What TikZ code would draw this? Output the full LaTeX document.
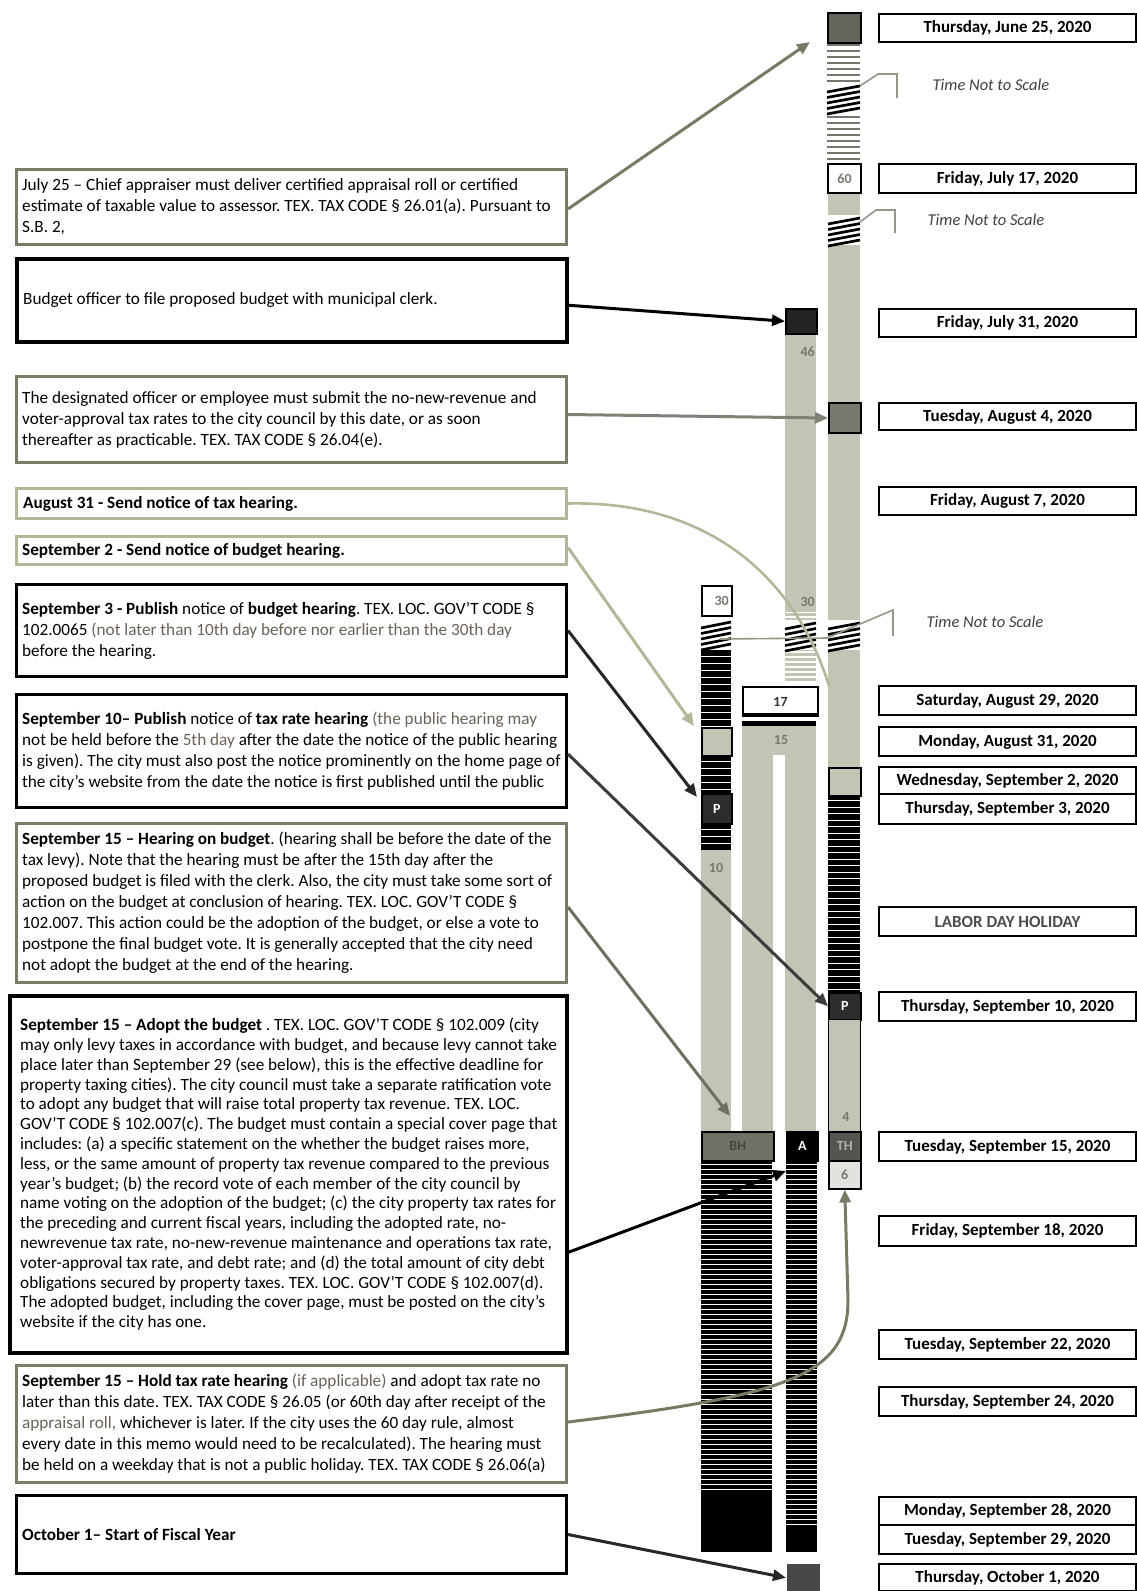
\documentclass[tikz,border=0pt]{standalone}
\usepackage{fontspec}
\setmainfont{Carlito}
\usetikzlibrary{arrows.meta,calc}
\definecolor{bargray}{RGB}{196,196,180}
\definecolor{olivec}{RGB}{122,124,104}
\definecolor{lolive}{RGB}{180,182,154}
\definecolor{stripegray}{RGB}{118,118,108}
\definecolor{numgray}{RGB}{120,120,110}
\definecolor{txtgray}{RGB}{105,98,85}
\definecolor{calloutc}{RGB}{150,150,135}
\newcommand\blackstripes[5]{%
  \fill[black] (#1,#3) rectangle (#2,#4);
  \pgfmathtruncatemacro\nst{(#4-#3)/#5-1}
  \foreach \k in {0,...,\nst}{\draw[white,line width=1.2pt] (#1,{#3+#5*\k+#5-0.8}) -- (#2,{#3+#5*\k+#5-0.8});}
}
\newcommand\linestripes[6]{%
  \fill[white] (#1,#3) rectangle (#2,#4);
  \pgfmathtruncatemacro\nst{(#4-#3)/#5-1}
  \foreach \k in {0,...,\nst}{\draw[#6,line width=2.6pt] (#1,{#3+#5*\k+#5/2}) -- (#2,{#3+#5*\k+#5/2});}
}
\newcommand\breakmark[3]{%
  \fill[white] (#1,#3) rectangle (#2,{#3+30});
  \foreach \k in {0,...,4}{\draw[black,line width=2.7pt] (#1,{#3+9+\k*5.5}) -- (#2,{#3+3+\k*5.5});}
}
\begin{document}
\frenchspacing
\begin{tikzpicture}[x=1pt,y=-1pt,
  tbox/.style={draw, line width=3pt, anchor=north west, inner sep=0pt, minimum width=550pt},
  txt/.style={anchor=west, inner sep=0pt, align=left, font=\fontsize{17.2}{21}\selectfont\frenchspacing},
  dbox/.style={draw, line width=2pt, anchor=north west, minimum width=257pt, inner sep=0pt,
    font=\fontsize{17}{17}\selectfont\bfseries},
  barbox/.style={draw=black, line width=1.5pt, anchor=north west, inner sep=0pt,
    font=\fontsize{14}{14}\selectfont\bfseries},
  numlbl/.style={font=\fontsize{14}{14}\selectfont\bfseries, text=numgray, inner sep=0pt},
  tns/.style={font=\fontsize{16.5}{16.5}\selectfont\itshape, text=black!75, inner sep=0pt},
  arr/.style={line width=3pt, -{Triangle[length=13pt,width=11pt]}},
]
\useasboundingbox (0,0) rectangle (1137,1591);

% ---------------- Column C ----------------
\linestripes{827}{860}{42}{163}{6}{stripegray}
\breakmark{827}{860}{83}
\fill[bargray] (828,192) rectangle (860,402);
\breakmark{828}{860}{215}
\fill[bargray] (828,432) rectangle (860,767);
\breakmark{828}{860}{620}
\blackstripes{828}{860}{795}{992}{6.5}
\node[barbox, fill={rgb,255:red,100;green,100;blue,92}, minimum width=33pt, minimum height=30pt] (jun25box) at (827,12) {};
\node[barbox, fill=white, minimum width=33pt, minimum height=29pt, line width=2pt, text=numgray] (box60) at (827,163) {60};
\node[barbox, fill={rgb,255:red,120;green,120;blue,110}, minimum width=32pt, minimum height=30pt, line width=2pt] (aug4box) at (828,402) {};
\node[barbox, fill=bargray, minimum width=32pt, minimum height=28pt] (boxC2) at (828,767) {};
\node[barbox, fill={rgb,255:red,45;green,45;blue,45}, minimum width=32pt, minimum height=27pt, text=white] (PC) at (828,992) {P};
\node[barbox, fill=bargray, minimum width=32pt, minimum height=112pt, line width=1.2pt] (Cbox4) at (828,1019) {};
\node[numlbl] (lbl4) at (846,1117) {4};
\node[barbox, fill={rgb,255:red,85;green,85;blue,80}, minimum width=32pt, minimum height=29pt, text={rgb,255:red,175;green,175;blue,170}] (TH) at (828,1131) {TH};
\node[barbox, fill={rgb,255:red,226;green,226;blue,222}, minimum width=32pt, minimum height=28pt, text=numgray] (six) at (828,1160) {6};

% ---------------- Column B ----------------
\fill[bargray] (785,333) rectangle (816,612);
\linestripes{785}{816}{612}{684}{5}{bargray}
\breakmark{785}{816}{620}
\node[barbox, fill={rgb,255:red,35;green,35;blue,35}, minimum width=31pt, minimum height=25pt] (jul31box) at (785,308) {};
\node[numlbl, anchor=east] (lbl46) at (815,352) {46};
\node[numlbl, anchor=east] (lbl30b) at (815,602) {30};
\node[barbox, fill=white, minimum width=75pt, minimum height=29pt, line width=2pt, text=black!80] (box17) at (742,686) {17};
\draw[black, line width=2.2pt] (742,714.5) -- (817,714.5);
\fill[black] (742,721) rectangle (816,725.5);
\fill[bargray] (742,726) rectangle (816,755);
\node[numlbl] (lbl15) at (781,740) {15};
\fill[bargray] (785,755) rectangle (816,1131);
\fill[bargray] (742,755) rectangle (773,1131);
\node[barbox, fill=black, minimum width=31pt, minimum height=29pt, text=white] (Abox) at (786,1131) {A};
\blackstripes{786}{817}{1160}{1525}{5}
\fill[black] (786,1525) rectangle (817,1552);
\node[barbox, fill={rgb,255:red,72;green,72;blue,72}, draw=none, minimum width=33pt, minimum height=28pt] (oct1box) at (786,1563) {};

% ---------------- Column A ----------------
\node[barbox, fill=white, minimum width=30pt, minimum height=30pt, line width=2pt] (box30a) at (701,585) {};
\node[numlbl, anchor=east] (lbl30a) at (729,601) {30};
\breakmark{701}{731}{619}
\blackstripes{701}{731}{650}{727}{7}
\node[barbox, fill=bargray, minimum width=30pt, minimum height=28pt] (boxA1) at (701,727) {};
\blackstripes{701}{731}{755}{793}{7}
\node[barbox, fill={rgb,255:red,45;green,45;blue,45}, minimum width=30pt, minimum height=30pt, text=white] (PA) at (701,793) {P};
\blackstripes{701}{731}{823}{850}{7}
\fill[bargray] (701,850) rectangle (731,1131);
\node[numlbl] (lbl10) at (716,868) {10};
\node[barbox, fill={rgb,255:red,112;green,112;blue,102}, minimum width=72pt, minimum height=29pt, text={rgb,255:red,70;green,70;blue,65}] (BH) at (701,1131) {BH};
\blackstripes{701}{772}{1160}{1493}{5}
\fill[black] (701,1493) rectangle (772,1552);

% ---------------- Time not to scale ----------------
\node[tns] (tns1) at (991,85) {Time Not to Scale};
\node[tns] (tns2) at (986,220) {Time Not to Scale};
\node[tns] (tns3) at (985,622) {Time Not to Scale};
\draw[calloutc, line width=1.6pt] (860,86) -- (878,74) -- (897,74) -- (897,98);
\draw[calloutc, line width=1.6pt] (860,222) -- (876,210) -- (895,210) -- (895,233);
\draw[calloutc, line width=1.6pt] (720,639) -- (827,638) -- (893,610) -- (893,636);

% ---------------- Date boxes ----------------
\node[dbox, minimum height=28pt] (d1) at (878,13) {Thursday, June 25, 2020};
\node[dbox, minimum height=29pt] (d2) at (878,163) {Friday, July 17, 2020};
\node[dbox, minimum height=28pt] (d3) at (878,308) {Friday, July 31, 2020};
\node[dbox, minimum height=27pt] (d4) at (878,402) {Tuesday, August 4, 2020};
\node[dbox, minimum height=28pt] (d5) at (878,486) {Friday, August 7, 2020};
\node[dbox, minimum height=29pt] (d6) at (878,685) {Saturday, August 29, 2020};
\node[dbox, minimum height=29pt] (d7) at (878,726) {Monday, August 31, 2020};
\node[dbox, minimum height=27pt] (d8) at (878,766) {Wednesday, September 2, 2020};
\node[dbox, minimum height=30pt] (d9) at (878,793) {Thursday, September 3, 2020};
\node[dbox, minimum height=29pt, text=black!70] (d10) at (878,906) {LABOR DAY HOLIDAY};
\node[dbox, minimum height=29pt] (d11) at (878,991) {Thursday, September 10, 2020};
\node[dbox, minimum height=29pt] (d12) at (878,1131) {Tuesday, September 15, 2020};
\node[dbox, minimum height=30pt] (d13) at (878,1215) {Friday, September 18, 2020};
\node[dbox, minimum height=29pt] (d14) at (878,1329) {Tuesday, September 22, 2020};
\node[dbox, minimum height=29pt] (d15) at (878,1386) {Thursday, September 24, 2020};
\node[dbox, minimum height=28pt] (d16) at (878,1496) {Monday, September 28, 2020};
\node[dbox, minimum height=29pt] (d17) at (878,1524) {Tuesday, September 29, 2020};
\node[dbox, minimum height=27pt] (d18) at (878,1563) {Thursday, October 1, 2020};

% ---------------- Text boxes (frames) ----------------
\node[tbox, draw=olivec, minimum height=75pt] (t1) at (15,168) {};
\node[tbox, draw=black, line width=3.5pt, minimum height=83pt] (t2) at (15,257) {};
\node[tbox, draw=olivec, minimum height=86pt] (t3) at (15,375) {};
\node[tbox, draw=lolive, minimum height=30pt] (t4) at (15,487) {};
\node[tbox, draw=lolive, minimum height=28pt] (t5) at (15,535) {};
\node[tbox, draw=black, minimum height=92pt] (t6) at (15,583) {};
\node[tbox, draw=black, minimum height=113pt] (t7) at (15,693) {};
\node[tbox, draw=olivec, minimum height=159pt] (t8) at (15,822) {};
\node[tbox, draw=black, line width=3.5pt, minimum width=557pt, minimum height=357pt] (t9) at (8,994) {};
\node[tbox, draw=olivec, minimum height=117pt] (t10) at (15,1364) {};
\node[tbox, draw=black, minimum height=78pt] (t11) at (15,1494) {};

% ---------------- Text boxes (texts) ----------------
\node[txt] (t1txt) at ([xshift=7pt]t1.west) {July 25 – Chief appraiser must deliver certified appraisal roll or certified\\ estimate of taxable value to assessor. TEX. TAX CODE § 26.01(a). Pursuant to\\ S.B. 2,};
\node[txt] (t2txt) at ([xshift=8pt]t2.west) {Budget officer to file proposed budget with municipal clerk.};
\node[txt] (t3txt) at ([xshift=7pt]t3.west) {The designated officer or employee must submit the no-new-revenue and\\ voter-approval tax rates to the city council by this date, or as soon\\ thereafter as practicable. TEX. TAX CODE § 26.04(e).};
\node[txt] (t4txt) at ([xshift=8pt]t4.west) {\textbf{August 31 - Send notice of tax hearing.}};
\node[txt] (t5txt) at ([xshift=7pt]t5.west) {\textbf{September 2 - Send notice of budget hearing.}};
\node[txt] (t6txt) at ([xshift=7pt]t6.west) {\textbf{September 3 - Publish} notice of \textbf{budget hearing}. TEX. LOC. GOV’T CODE §\\ 102.0065 {\color{txtgray}(not later than 10th day before nor earlier than the 30th day}\\ before the hearing.};
\node[txt] (t7txt) at ([xshift=7pt]t7.west) {\textbf{September 10– Publish} notice of \textbf{tax rate hearing} {\color{txtgray}(the public hearing may}\\ not be held before the {\color{txtgray}5th day} after the date the notice of the public hearing\\ is given). The city must also post the notice prominently on the home page of\\ the city’s website from the date the notice is first published until the public};
\node[txt] (t8txt) at ([xshift=7pt]t8.west) {\textbf{September 15 – Hearing on budget}. (hearing shall be before the date of the\\ tax levy). Note that the hearing must be after the 15th day after the\\ proposed budget is filed with the clerk. Also, the city must take some sort of\\ action on the budget at conclusion of hearing. TEX. LOC. GOV’T CODE §\\ 102.007. This action could be the adoption of the budget, or else a vote to\\ postpone the final budget vote. It is generally accepted that the city need\\ not adopt the budget at the end of the hearing.};
\node[txt, font=\fontsize{17.2}{19.8}\selectfont\frenchspacing] (t9txt) at ([xshift=12pt]t9.west) {\textbf{September 15 – Adopt the budget} . TEX. LOC. GOV’T CODE § 102.009 (city\\ may only levy taxes in accordance with budget, and because levy cannot take\\ place later than September 29 (see below), this is the effective deadline for\\ property taxing cities). The city council must take a separate ratification vote\\ to adopt any budget that will raise total property tax revenue. TEX. LOC.\\ GOV’T CODE § 102.007(c). The budget must contain a special cover page that\\ includes: (a) a specific statement on the whether the budget raises more,\\ less, or the same amount of property tax revenue compared to the previous\\ year’s budget; (b) the record vote of each member of the city council by\\ name voting on the adoption of the budget; (c) the city property tax rates for\\ the preceding and current fiscal years, including the adopted rate, no-\\ newrevenue tax rate, no-new-revenue maintenance and operations tax rate,\\ voter-approval tax rate, and debt rate; and (d) the total amount of city debt\\ obligations secured by property taxes. TEX. LOC. GOV’T CODE § 102.007(d).\\ The adopted budget, including the cover page, must be posted on the city’s\\ website if the city has one.};
\node[txt] (t10txt) at ([xshift=7pt]t10.west) {\textbf{September 15 – Hold tax rate hearing} {\color{txtgray}(if applicable)} and adopt tax rate no\\ later than this date. TEX. TAX CODE § 26.05 (or 60th day after receipt of the\\ {\color{txtgray}appraisal roll,} whichever is later. If the city uses the 60 day rule, almost\\ every date in this memo would need to be recalculated). The hearing must\\ be held on a weekday that is not a public holiday. TEX. TAX CODE § 26.06(a)};
\node[txt] (t11txt) at ([xshift=7pt]t11.west) {\textbf{October 1– Start of Fiscal Year}};

% ---------------- Connectors ----------------
\coordinate (tip1) at (810,42);
\coordinate (tip5) at (694,726);
\coordinate (tip6) at (697,797);
\coordinate (tip8) at (730,1116);
\coordinate (tip9) at (786,1171);
\coordinate (end4) at (829,686);
\draw[arr, color={rgb,255:red,120;green,122;blue,100}] ([yshift=-2pt]t1.east) -- (tip1);
\draw[arr, black] ([yshift=-5pt]t2.east) -- (jul31box.west);
\draw[arr, color={rgb,255:red,128;green,128;blue,118}] ([yshift=5pt]t3.east) -- (aug4box.west);
\draw[lolive, line width=2.6pt] (t4.east) .. controls (720,500) and (800,590) .. (end4);
\draw[arr, color=lolive] ([yshift=3pt]t5.east) -- (tip5);
\draw[arr, color={rgb,255:red,40;green,40;blue,40}] (t6.east) -- (tip6);
\draw[arr, color={rgb,255:red,60;green,60;blue,60}] ([yshift=-3pt]t7.east) -- (PC.west);
\draw[arr, color={rgb,255:red,110;green,112;blue,95}] ([yshift=-4pt]t8.east) -- (tip8);
\draw[arr, black] ([yshift=-78pt]t9.east) -- (tip9);
\draw[arr, color={rgb,255:red,120;green,122;blue,100}] ([yshift=2pt]t10.east) .. controls (790,1395) and (848,1375) .. (848,1300) -- (six.south);
\draw[arr, color={rgb,255:red,40;green,40;blue,40}] (t11.east) -- (oct1box.west);
\end{tikzpicture}
\end{document}
